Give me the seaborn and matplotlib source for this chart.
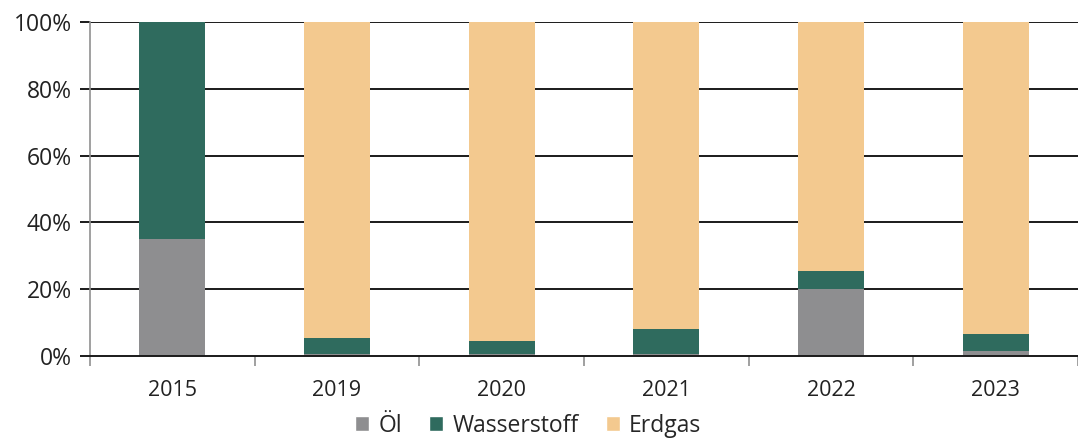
import matplotlib
matplotlib.use("Agg")
import matplotlib.pyplot as plt
from matplotlib.patches import Patch
from matplotlib.ticker import PercentFormatter, FixedLocator
import seaborn as sns
import pandas as pd
import numpy as np

years = ["2015", "2019", "2020", "2021", "2022", "2023"]
oel = [35.0, 0.5, 0.5, 0.5, 20.0, 1.5]
wasserstoff = [65.0, 5.0, 4.0, 7.5, 5.5, 5.0]
erdgas = [0.0, 94.5, 95.5, 92.0, 74.5, 93.5]

c_oel = "#8e8e90"
c_h2 = "#2f6b5e"
c_gas = "#f3c98f"

sns.set_theme(style="white")
plt.rcParams["font.family"] = ["Open Sans", "DejaVu Sans"]

df = pd.DataFrame({"Jahr": years, "Öl": oel, "Wasserstoff": wasserstoff, "Erdgas": erdgas})
df["top_h2"] = df["Öl"] + df["Wasserstoff"]
df["top_gas"] = df["top_h2"] + df["Erdgas"]

fig = plt.figure(figsize=(10.78, 4.38), dpi=100)
ax = fig.add_axes([0.0835, 0.187, 0.9165, 0.763])

# horizontal gridlines behind the bars
for v in [20, 40, 60, 80, 100]:
    ax.axhline(v, color="#1a1a1a", lw=1.4, zorder=0)

# stacked columns drawn as overlapping cumulative layers
for col, colour in [("top_gas", c_gas), ("top_h2", c_h2), ("Öl", c_oel)]:
    sns.barplot(data=df, x="Jahr", y=col, color=colour, width=0.4,
                saturation=1, ax=ax, zorder=2, linewidth=0)

ax.set_xlim(-0.5, len(years) - 0.5)
ax.set_ylim(0, 100)
ax.yaxis.set_major_locator(FixedLocator([0, 20, 40, 60, 80, 100]))
ax.yaxis.set_major_formatter(PercentFormatter(decimals=0))
ax.set_xlabel("")
ax.set_ylabel("")

for s in ["top", "right"]:
    ax.spines[s].set_visible(False)
ax.spines["left"].set_color("#909090")
ax.spines["left"].set_linewidth(1.2)
ax.spines["bottom"].set_color("#1a1a1a")
ax.spines["bottom"].set_linewidth(1.4)
ax.spines["bottom"].set_zorder(3)

ax.tick_params(axis="y", which="major", length=7, width=1.4, color="#1a1a1a",
               labelsize=16.5, labelcolor="#222222", pad=6, left=True)
ax.tick_params(axis="x", which="major", length=0, labelsize=15.5,
               labelcolor="#222222", pad=17)
ax.set_xticks(np.arange(-0.5, len(years), 1.0), minor=True)
ax.tick_params(axis="x", which="minor", length=7, width=1.2, color="#909090",
               bottom=True)

handles = [Patch(facecolor=c_oel, label="Öl"),
           Patch(facecolor=c_h2, label="Wasserstoff"),
           Patch(facecolor=c_gas, label="Erdgas")]
fig.legend(handles=handles, loc="center", bbox_to_anchor=(0.49, 0.028),
           ncol=3, frameon=False, fontsize=16.5, handlelength=0.6,
           handleheight=0.6, handletextpad=0.4, columnspacing=1.2)

fig.savefig("out.png", dpi=100)
